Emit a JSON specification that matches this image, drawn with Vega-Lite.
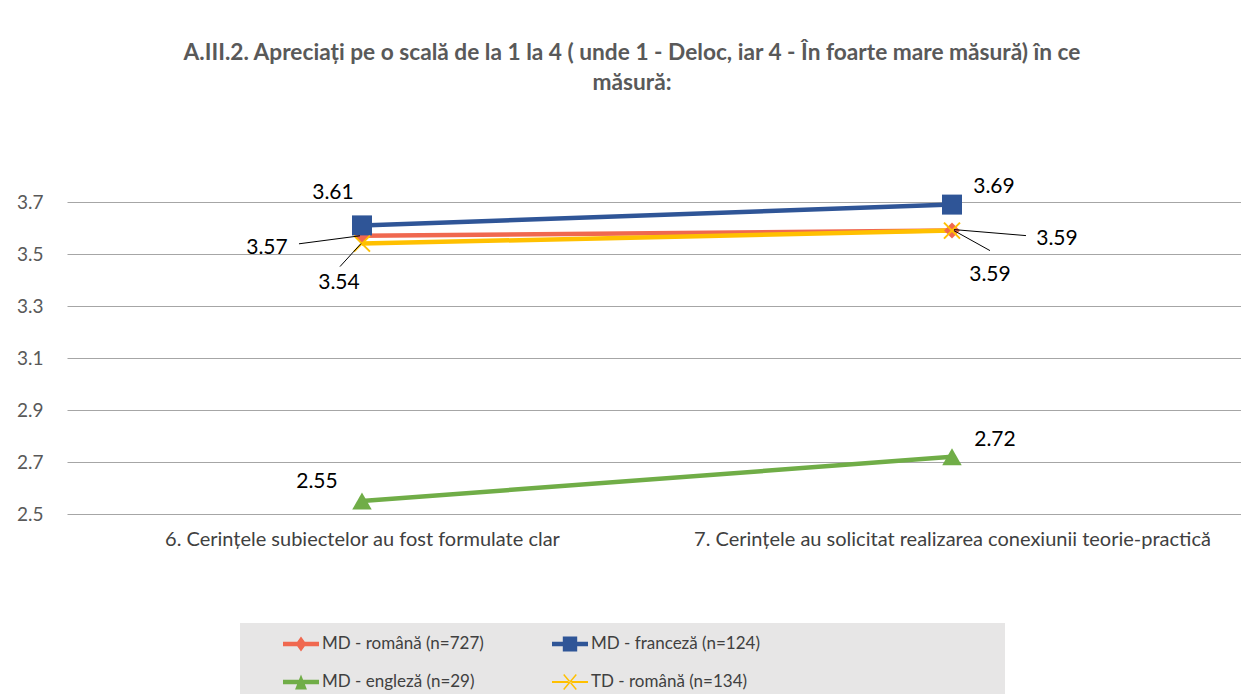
{
  "$schema": "https://vega.github.io/schema/vega-lite/v6.json",
  "autosize": {"type": "none"},
  "width": 1174,
  "height": 312,
  "padding": {"left": 67, "top": 202, "right": 0, "bottom": 186},
  "background": "white",
  "config": {
    "font": "Lato",
    "view": {"stroke": null},
    "legend": {
      "orient": "none", "legendX": 173, "legendY": 421, "columns": 2,
      "fillColor": "#e7e6e6", "padding": 3, "symbolSize": 1296, "symbolStrokeWidth": 0, "symbolOpacity": 1,
      "symbolOffset": 40, "labelOffset": 3, "labelFont": "Lato", "labelFontSize": 17, "labelColor": "#404040",
      "columnPadding": 28, "rowPadding": 12, "titleOrient": "right", "titlePadding": 242, "labelLimit": 400
    }
  },
  "title": {
    "text": ["A.III.2. Apreciați pe o scală de la 1 la 4 ( unde 1 - Deloc, iar 4 - În foarte mare măsură) în ce", "măsură:"],
    "font": "Lato", "fontSize": 22.7, "fontWeight": "bold", "color": "#595959",
    "anchor": "middle", "offset": 81, "dx": -22, "lineHeight": 30
  },
  "data": {"values": [
    {"cat": "6. Cerințele subiectelor au fost formulate clar", "series": "MD - română (n=727)", "value": 3.57},
    {"cat": "7. Cerințele au solicitat realizarea conexiunii teorie-practică", "series": "MD - română (n=727)", "value": 3.59},
    {"cat": "6. Cerințele subiectelor au fost formulate clar", "series": "MD - franceză (n=124)", "value": 3.61},
    {"cat": "7. Cerințele au solicitat realizarea conexiunii teorie-practică", "series": "MD - franceză (n=124)", "value": 3.69},
    {"cat": "6. Cerințele subiectelor au fost formulate clar", "series": "MD - engleză (n=29)", "value": 2.55},
    {"cat": "7. Cerințele au solicitat realizarea conexiunii teorie-practică", "series": "MD - engleză (n=29)", "value": 2.72},
    {"cat": "6. Cerințele subiectelor au fost formulate clar", "series": "TD - română (n=134)", "value": 3.54},
    {"cat": "7. Cerințele au solicitat realizarea conexiunii teorie-practică", "series": "TD - română (n=134)", "value": 3.59}
  ]},
  "encoding": {
    "x": {
      "field": "cat", "type": "nominal",
      "sort": ["6. Cerințele subiectelor au fost formulate clar", "7. Cerințele au solicitat realizarea conexiunii teorie-practică"],
      "scale": {"type": "point", "padding": 0.4949, "align": 0.5051},
      "axis": {"title": null, "labelAngle": 0, "domain": false, "ticks": false, "grid": false, "labelPadding": 15, "labelFontSize": 20, "labelColor": "#404040", "labelLimit": 1000, "labelOverlap": false, "labelFont": "Lato"}
    },
    "y": {
      "field": "value", "type": "quantitative",
      "scale": {"domain": [2.5, 3.7], "zero": false, "nice": false},
      "axis": {"title": null, "values": [2.5, 2.7, 2.9, 3.1, 3.3, 3.5, 3.7], "format": ".1f", "domain": false, "ticks": false, "grid": true, "gridColor": "#a6a6a6", "gridWidth": 1, "labelPadding": 24, "labelFontSize": 19, "labelColor": "#595959", "labelFont": "Lato"}
    }
  },
  "layer": [
    {
      "mark": {"type": "line", "strokeWidth": 4.5},
      "encoding": {
        "color": {"field": "series", "type": "nominal", "title": "\u00a0", "scale": {"domain": ["MD - română (n=727)", "MD - engleză (n=29)", "MD - franceză (n=124)", "TD - română (n=134)"], "range": ["#F0684F", "#70AD47", "#2F5597", "#FFC000"]}}
      }
    },
    {
      "transform": [{"filter": "datum.series === 'MD - română (n=727)'"}],
      "mark": {"type": "point", "shape": "diamond", "filled": true, "size": 256, "color": "#F0684F", "opacity": 1}
    },
    {
      "transform": [{"filter": "datum.series === 'MD - franceză (n=124)'"}],
      "mark": {"type": "point", "shape": "square", "filled": true, "size": 400, "color": "#2F5597", "opacity": 1}
    },
    {
      "transform": [{"filter": "datum.series === 'MD - engleză (n=29)'"}],
      "mark": {"type": "point", "shape": "triangle-up", "filled": true, "size": 380, "color": "#70AD47", "opacity": 1}
    },
    {
      "transform": [{"filter": "datum.series === 'TD - română (n=134)'"}],
      "mark": {"type": "point", "shape": "M-1,-1L1,1M-1,1L1,-1", "filled": false, "size": 256, "strokeWidth": 2, "color": "#FFC000", "opacity": 1}
    },
    {
      "mark": {"type": "point", "filled": true, "opacity": 0, "size": 1296},
      "encoding": {
        "color": {"field": "series", "type": "nominal", "title": "\u00a0"},
        "shape": {"field": "series", "type": "nominal", "title": "\u00a0",
          "scale": {"domain": ["MD - română (n=727)", "MD - engleză (n=29)", "MD - franceză (n=124)", "TD - română (n=134)"],
            "range": [
              "M-1,-0.13H1V0.13H-1ZM0,-0.42L0.3,0L0,0.42L-0.3,0Z",
              "M-1,-0.13H1V0.13H-1ZM0,-0.42L0.33,0.42H-0.33Z",
              "M-1,-0.13H1V0.13H-1ZM-0.4,-0.42H0.4V0.42H-0.4Z",
              "M-1,-0.05H1V0.05H-1ZM-0.381,-0.394L0.319,0.446L0.381,0.394L-0.319,-0.446ZM0.381,-0.394L-0.319,0.446L-0.381,0.394L0.319,-0.446Z"
            ]}
        }
      }
    },
    {
      "transform": [{"filter": "datum.series === 'MD - română (n=727)' && datum.cat[0] === '6'"}],
      "mark": {"type": "rule", "color": "black", "strokeWidth": 1, "xOffset": -63, "yOffset": 8, "x2Offset": -2, "y2Offset": 0},
      "encoding": {"x2": {"field": "cat"}, "y2": {"field": "value"}}
    },
    {
      "transform": [{"filter": "datum.series === 'TD - română (n=134)' && datum.cat[0] === '6'"}],
      "mark": {"type": "rule", "color": "black", "strokeWidth": 1, "xOffset": -22, "yOffset": 23, "x2Offset": -1, "y2Offset": 0},
      "encoding": {"x2": {"field": "cat"}, "y2": {"field": "value"}}
    },
    {
      "transform": [{"filter": "datum.series === 'MD - română (n=727)' && datum.cat[0] === '7'"}],
      "mark": {"type": "rule", "color": "black", "strokeWidth": 1, "xOffset": 2, "yOffset": -1, "x2Offset": 74, "y2Offset": 5},
      "encoding": {"x2": {"field": "cat"}, "y2": {"field": "value"}}
    },
    {
      "transform": [{"filter": "datum.series === 'TD - română (n=134)' && datum.cat[0] === '7'"}],
      "mark": {"type": "rule", "color": "black", "strokeWidth": 1, "xOffset": 2, "yOffset": 0, "x2Offset": 38, "y2Offset": 20},
      "encoding": {"x2": {"field": "cat"}, "y2": {"field": "value"}}
    },
    {
      "transform": [{"filter": "datum.series === 'MD - franceză (n=124)' && datum.cat[0] === '6'"}],
      "mark": {"type": "text", "font": "Lato", "fontSize": 21, "color": "black", "align": "center", "baseline": "middle", "dx": -29, "dy": -32},
      "encoding": {"text": {"field": "value", "type": "quantitative", "format": ".2f"}}
    },
    {
      "transform": [{"filter": "datum.series === 'MD - română (n=727)' && datum.cat[0] === '6'"}],
      "mark": {"type": "text", "font": "Lato", "fontSize": 21, "color": "black", "align": "center", "baseline": "middle", "dx": -95, "dy": 12},
      "encoding": {"text": {"field": "value", "type": "quantitative", "format": ".2f"}}
    },
    {
      "transform": [{"filter": "datum.series === 'TD - română (n=134)' && datum.cat[0] === '6'"}],
      "mark": {"type": "text", "font": "Lato", "fontSize": 21, "color": "black", "align": "center", "baseline": "middle", "dx": -23, "dy": 39},
      "encoding": {"text": {"field": "value", "type": "quantitative", "format": ".2f"}}
    },
    {
      "transform": [{"filter": "datum.series === 'MD - engleză (n=29)' && datum.cat[0] === '6'"}],
      "mark": {"type": "text", "font": "Lato", "fontSize": 21, "color": "black", "align": "center", "baseline": "middle", "dx": -45, "dy": -19},
      "encoding": {"text": {"field": "value", "type": "quantitative", "format": ".2f"}}
    },
    {
      "transform": [{"filter": "datum.series === 'MD - franceză (n=124)' && datum.cat[0] === '7'"}],
      "mark": {"type": "text", "font": "Lato", "fontSize": 21, "color": "black", "align": "center", "baseline": "middle", "dx": 42, "dy": -18},
      "encoding": {"text": {"field": "value", "type": "quantitative", "format": ".2f"}}
    },
    {
      "transform": [{"filter": "datum.series === 'MD - română (n=727)' && datum.cat[0] === '7'"}],
      "mark": {"type": "text", "font": "Lato", "fontSize": 21, "color": "black", "align": "center", "baseline": "middle", "dx": 105, "dy": 8},
      "encoding": {"text": {"field": "value", "type": "quantitative", "format": ".2f"}}
    },
    {
      "transform": [{"filter": "datum.series === 'TD - română (n=134)' && datum.cat[0] === '7'"}],
      "mark": {"type": "text", "font": "Lato", "fontSize": 21, "color": "black", "align": "center", "baseline": "middle", "dx": 38, "dy": 44},
      "encoding": {"text": {"field": "value", "type": "quantitative", "format": ".2f"}}
    },
    {
      "transform": [{"filter": "datum.series === 'MD - engleză (n=29)' && datum.cat[0] === '7'"}],
      "mark": {"type": "text", "font": "Lato", "fontSize": 21, "color": "black", "align": "center", "baseline": "middle", "dx": 43, "dy": -17},
      "encoding": {"text": {"field": "value", "type": "quantitative", "format": ".2f"}}
    }
  ]
}
